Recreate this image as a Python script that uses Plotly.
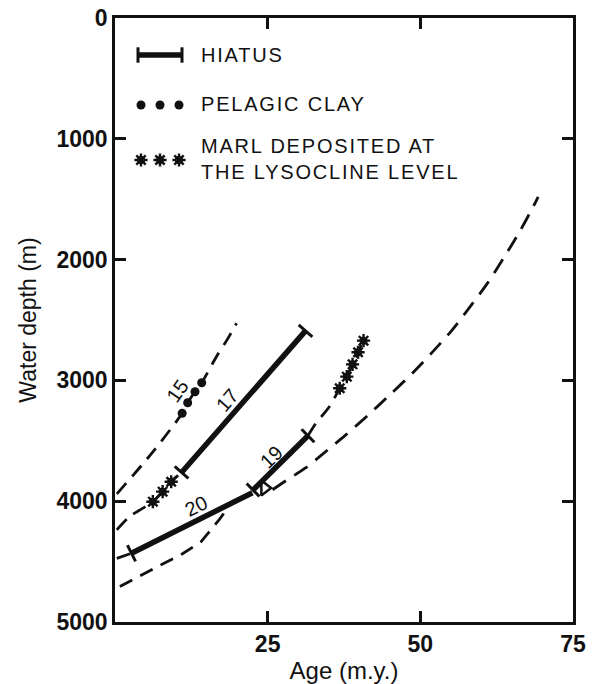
import math
import plotly.graph_objects as go

# ---------------- data (age in m.y., water depth in m) ----------------
c15_age = [0.3, 6.0, 11.0, 11.9, 13.1, 14.2, 16.6, 18.5, 19.9]
c15_dep = [3940, 3604, 3272, 3185, 3094, 3019, 2804, 2652, 2527]
clay15_age = [11.0, 11.9, 13.1, 14.2]
clay15_dep = [3272, 3185, 3094, 3019]

c17_age = [0.3, 2.4, 6.2, 7.8, 9.2, 10.9]
c17_dep = [4238, 4128, 4004, 3921, 3839, 3762]
marl17_age = [6.2, 7.8, 9.2]
marl17_dep = [4004, 3921, 3839]
hiatus17_age = [10.9, 31.2]
hiatus17_dep = [3762, 2590]

c20_age = [0.3, 2.7]
c20_dep = [4473, 4431]
hiatus20_age = [2.7, 22.5]
hiatus20_dep = [4431, 3930]

cLow_age = [0.8, 4.6, 7.8, 11.0, 14.1, 17.1, 18.3]
cLow_dep = [4707, 4603, 4520, 4437, 4335, 4150, 4068]

hiatus19_age = [22.6, 31.6]
hiatus19_dep = [3907, 3458]
c19_age = [31.6, 32.9, 35.1, 36.8, 37.96, 38.9, 39.8, 40.7]
c19_dep = [3458, 3355, 3218, 3065, 2969, 2867, 2767, 2671]
marl19_age = [36.8, 37.96, 38.9, 39.8, 40.7]
marl19_dep = [3065, 2969, 2867, 2767, 2671]
junction_age = [24.5]
junction_dep = [3891]

cBig_age = [25.8, 28.0, 31.2, 34.0, 37.7, 41.5, 45.1, 48.7, 51.9, 55.1,
            57.7, 61.0, 63.6, 66.3, 68.5, 69.3]
cBig_dep = [3905, 3830, 3725, 3610, 3455, 3285, 3115, 2940, 2770, 2590,
            2420, 2195, 1990, 1765, 1560, 1480]

site_labels = ["15", "17", "19", "20"]
label_age = [10.2, 18.4, 25.6, 13.3]
label_dep = [3085, 3162, 3632, 4040]

x_ticks = [25, 50, 75]
y_ticks = [0, 1000, 2000, 3000, 4000, 5000]
legend_names = ["HIATUS", "PELAGIC CLAY", "MARL DEPOSITED AT<br>THE LYSOCLINE LEVEL"]

# ---------------- layout geometry ----------------
W, H = 605, 684
ML, MR, MT, MB = 115, 32, 18, 62
PW, PH = W - ML - MR, H - MT - MB
SX = PW / 75.0
SY = PH / 5000.0

BLACK = "#111111"
FONT = "Liberation Sans"

fig = go.Figure()


def dashed(ax, dp, dash="14px,9px", shape="spline"):
    line = dict(color=BLACK, width=2.8, dash=dash, shape=shape)
    if shape == "spline":
        line["smoothing"] = 0.8
    fig.add_trace(go.Scatter(x=ax, y=dp, mode="lines", line=line,
                             hoverinfo="skip", showlegend=False))


def screen_angle(ax, dp):
    dx = (ax[1] - ax[0]) * SX
    dy = (dp[0] - dp[1]) * SY
    return math.degrees(math.atan2(dy, dx))


def hiatus(ax, dp, ends=(True, True)):
    fig.add_trace(go.Scatter(x=ax, y=dp, mode="lines",
                             line=dict(color=BLACK, width=5.5),
                             hoverinfo="skip", showlegend=False))
    th = screen_angle(ax, dp)
    xs = [a for a, e in zip(ax, ends) if e]
    ys = [d for d, e in zip(dp, ends) if e]
    fig.add_trace(go.Scatter(x=xs, y=ys, mode="markers",
                             marker=dict(symbol="line-ns", size=13, angle=-th,
                                         color=BLACK,
                                         line=dict(color=BLACK, width=3)),
                             hoverinfo="skip", showlegend=False))


def clay(ax, dp, xa="x", ya="y"):
    fig.add_trace(go.Scatter(x=ax, y=dp, mode="markers", xaxis=xa, yaxis=ya,
                             marker=dict(symbol="circle", size=9, color=BLACK),
                             hoverinfo="skip", showlegend=False))


def marl(ax, dp, xa="x", ya="y"):
    fig.add_trace(go.Scatter(x=ax, y=dp, mode="markers", xaxis=xa, yaxis=ya,
                             marker=dict(symbol="circle", size=8, color=BLACK),
                             hoverinfo="skip", showlegend=False))
    fig.add_trace(go.Scatter(x=ax, y=dp, mode="markers", xaxis=xa, yaxis=ya,
                             marker=dict(symbol="asterisk-open", size=11,
                                         color=BLACK,
                                         line=dict(color=BLACK, width=2.4)),
                             hoverinfo="skip", showlegend=False))


# curves
dashed(c15_age, c15_dep)
dashed(c17_age, c17_dep)
dashed(c20_age, c20_dep, shape="linear")
dashed(cLow_age, cLow_dep, shape="linear")
dashed(c19_age, c19_dep)
dashed(cBig_age, cBig_dep, dash="16px,10px")

hiatus(hiatus17_age, hiatus17_dep)
hiatus(hiatus20_age, hiatus20_dep, ends=(True, False))
hiatus(hiatus19_age, hiatus19_dep)

fig.add_trace(go.Scatter(x=junction_age, y=junction_dep, mode="markers",
                         marker=dict(symbol="triangle-right-open", size=13,
                                     color=BLACK,
                                     line=dict(color=BLACK, width=2.5)),
                         hoverinfo="skip", showlegend=False))

clay(clay15_age, clay15_dep)
marl(marl17_age, marl17_dep)
marl(marl19_age, marl19_dep)

# site labels along the lines
label_angles = [-55, -49, -44, -26]
for t, a, d, ang in zip(site_labels, label_age, label_dep, label_angles):
    fig.add_annotation(x=a, y=d, text=t, showarrow=False, textangle=ang,
                       font=dict(family=FONT, size=20, color=BLACK))

# ---------------- custom legend (on a hidden 0..1 overlay axis) ----------------
def px2paper(px, py):
    return (px - ML) / PW, (H - MB - py) / PH

lx1, ly1 = px2paper(138, 55)
lx2, _ = px2paper(182, 55)
fig.add_trace(go.Scatter(x=[lx1, lx2], y=[ly1, ly1], mode="lines+markers",
                         xaxis="x2", yaxis="y2",
                         line=dict(color=BLACK, width=5.5),
                         marker=dict(symbol="line-ns", size=11, color=BLACK,
                                     line=dict(color=BLACK, width=3)),
                         hoverinfo="skip", showlegend=False))
cx = [px2paper(p, 0)[0] for p in (141, 160, 179)]
cy = px2paper(0, 105)[1]
clay(cx, [cy] * 3, "x2", "y2")
my = px2paper(0, 160)[1]
marl(cx, [my] * 3, "x2", "y2")

text_x = px2paper(199, 0)[0]
for name, py in zip(legend_names, (55, 104, 159)):
    fig.add_annotation(xref="paper", yref="paper", x=text_x,
                       y=px2paper(0, py)[1], text=name, showarrow=False,
                       xanchor="left", yanchor="middle", align="left",
                       font=dict(family=FONT, size=20, color=BLACK))

axis_common = dict(showline=True, linecolor=BLACK, linewidth=2.6,
                   mirror="ticks", ticks="inside", ticklen=11, tickwidth=2.6,
                   tickcolor=BLACK, showgrid=False, zeroline=False,
                   automargin=False,
                   tickfont=dict(family=FONT, size=23, color=BLACK, weight="bold"))

fig.update_layout(
    width=W, height=H,
    margin=dict(l=ML, r=MR, t=MT, b=MB),
    paper_bgcolor="white", plot_bgcolor="white",
    xaxis=dict(range=[0, 75], tickvals=x_ticks, ticktext=[str(v) for v in x_ticks],
               title=dict(text="Age (m.y.)", standoff=8,
                          font=dict(family=FONT, size=24, color=BLACK)),
               **axis_common),
    yaxis=dict(range=[5000, 0], tickvals=y_ticks, ticktext=[str(v) for v in y_ticks],
               title=dict(text="Water depth (m)", standoff=14,
                          font=dict(family=FONT, size=23, color=BLACK)),
               **axis_common),
    xaxis2=dict(range=[0, 1], overlaying="x", visible=False),
    yaxis2=dict(range=[0, 1], overlaying="y", visible=False),
    showlegend=False,
)

# widen the tracking of the legend lettering, as in the typeset original
post = """
document.querySelectorAll('.annotation-text').forEach(function(t){
  var s = t.textContent;
  if (s.indexOf('HIATUS')===0 || s.indexOf('PELAGIC')===0 || s.indexOf('MARL')===0){
    t.style.letterSpacing = '1.8px';
  }
});
"""
fig.write_html("out.html", post_script=post)
